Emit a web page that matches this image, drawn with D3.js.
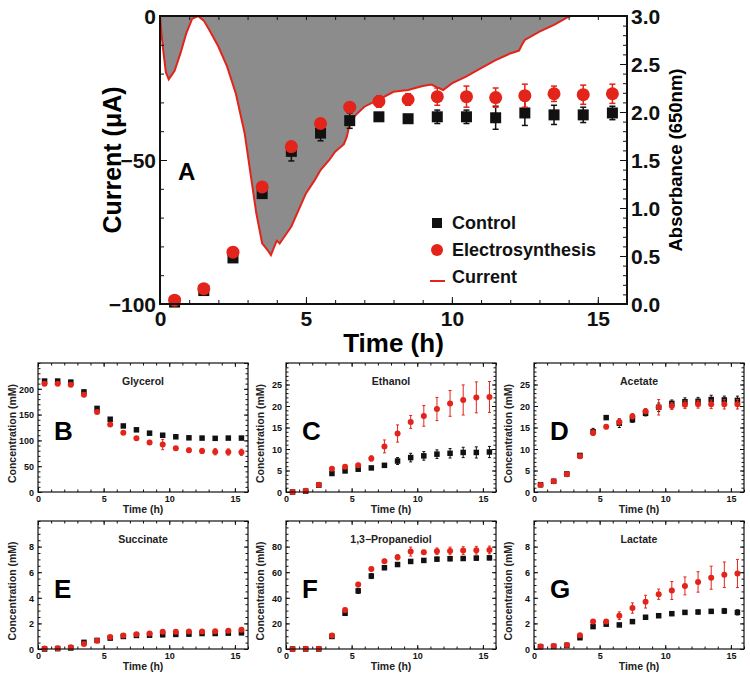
<!DOCTYPE html>
<html lang="en">
<head>
<meta charset="UTF-8">
<script src="https://d3js.org/d3.v7.min.js"></script>
<title>Electrosynthesis fermentation</title>
<style>
  body { margin: 0; background: white; }
  svg { display: block; font-family: "Liberation Sans", Arial, sans-serif; font-weight: bold; }
</style>
</head>
<body>
<div id="chart"></div>
<script>
// sampling times (h), shared by every panel
const sampleTimes = [0.5, 1.5, 2.5, 3.5, 4.5, 5.5, 6.5, 7.5, 8.5, 9.5, 10.5, 11.5, 12.5, 13.5, 14.5, 15.5];

// panel A: absorbance (650nm) and current (uA)
const absControl    = [0.02, 0.14, 0.48, 1.15, 1.59, 1.78, 1.91, 1.95, 1.93, 1.95, 1.95, 1.94, 1.99, 1.97, 1.97, 1.99];
const absControlErr = [0.01, 0.02, 0.02, 0.03, 0.10, 0.08, 0.08, 0.04, 0.03, 0.07, 0.07, 0.12, 0.13, 0.10, 0.08, 0.07];
const absElectro    = [0.04, 0.16, 0.54, 1.22, 1.64, 1.88, 2.05, 2.11, 2.13, 2.16, 2.16, 2.15, 2.17, 2.19, 2.18, 2.19];
const absElectroErr = [0.01, 0.02, 0.02, 0.03, 0.05, 0.05, 0.04, 0.06, 0.06, 0.09, 0.11, 0.10, 0.12, 0.08, 0.10, 0.10];

const currentTime  = [0, 0.05, 0.1, 0.2, 0.3, 0.5, 0.7, 0.9, 1.1, 1.3, 1.5, 1.7, 2.0, 2.3, 2.6, 2.9, 3.1, 3.3, 3.5, 3.7, 3.8, 4.0, 4.1, 4.2, 4.5, 5.0, 5.3, 5.5, 5.8, 6.0, 6.3, 6.4, 6.5, 6.7, 7.0, 7.3, 7.5, 8.0, 8.5, 9.0, 9.3, 9.5, 9.7, 10.0, 10.5, 11.0, 11.5, 12.0, 12.3, 12.4, 12.5, 13.0, 13.5, 14.0, 14.1];
const currentValue = [0, -6, -11, -19.5, -22, -19, -13, -6, -1, 0, -1.6, -5, -10.6, -17.6, -27, -40.7, -54.6, -68.5, -78.9, -81.5, -83, -78, -79, -77.5, -73.1, -61.6, -57, -53.5, -50, -47.1, -44.5, -42, -37.3, -34.4, -31.5, -30, -29, -26.3, -25.7, -24.3, -23.8, -24.8, -25.7, -23.4, -21, -18.1, -15.3, -13, -12, -10, -8.3, -5.4, -3.1, -0.2, 0];

// panels B-G: concentrations (mM)
const glycerolControl    = [215, 215, 213, 194, 162, 141, 128, 120.5, 114, 110, 107, 105, 104.5, 104, 104.5, 104.5];
const glycerolControlErr = [2, 2, 2, 3, 3, 3, 2, 2, 2, 2, 2, 2, 2, 2, 2, 2];
const glycerolElectro    = [210, 210, 208, 188.5, 155, 131, 115, 104, 96, 92, 85, 81, 79.5, 78, 77.5, 77];
const glycerolElectroErr = [3, 3, 3, 3, 3, 3, 3, 3, 4, 10, 3, 4, 5, 6, 6, 6];

const ethanolControl    = [0, 0.2, 1.6, 4.3, 4.9, 5.3, 5.6, 6.2, 7.2, 8.0, 8.4, 8.8, 9.0, 9.2, 9.2, 9.3];
const ethanolControlErr = [0.1, 0.1, 0.2, 0.3, 0.3, 0.3, 0.3, 0.4, 0.8, 1.0, 1.0, 1.0, 1.1, 1.2, 1.3, 1.3];
const ethanolElectro    = [0, 0.3, 1.7, 5.4, 5.9, 6.2, 7.8, 10.6, 13.6, 16.3, 17.7, 19.3, 20.6, 21.4, 22.0, 22.1];
const ethanolElectroErr = [0.1, 0.1, 0.2, 0.3, 0.3, 0.4, 0.6, 1.5, 2.0, 1.5, 2.4, 2.7, 3.0, 3.5, 3.6, 3.6];

const acetateControl    = [1.7, 2.5, 4.2, 8.5, 14.0, 17.3, 16.0, 16.8, 18.3, 19.7, 20.6, 21.0, 21.1, 21.5, 21.4, 21.3];
const acetateControlErr = [0.2, 0.2, 0.3, 0.4, 0.8, 0.4, 1.0, 0.6, 0.6, 1.0, 0.8, 0.9, 0.9, 1.0, 0.9, 1.0];
const acetateElectro    = [1.6, 2.5, 4.1, 8.3, 13.8, 15.2, 16.3, 17.6, 18.8, 19.7, 20.0, 20.3, 20.4, 20.4, 20.4, 20.4];
const acetateElectroErr = [0.2, 0.2, 0.3, 0.4, 0.6, 0.5, 0.7, 0.6, 0.6, 1.8, 0.8, 0.9, 0.9, 1.0, 1.1, 1.1];

const succinateControl    = [0, 0.03, 0.08, 0.52, 0.67, 0.85, 0.98, 1.06, 1.08, 1.11, 1.14, 1.16, 1.21, 1.21, 1.24, 1.26];
const succinateControlErr = [0.02, 0.02, 0.03, 0.12, 0.05, 0.05, 0.05, 0.05, 0.06, 0.06, 0.06, 0.06, 0.06, 0.07, 0.07, 0.07];
const succinateElectro    = [0.03, 0.05, 0.13, 0.39, 0.65, 0.93, 1.06, 1.16, 1.21, 1.34, 1.34, 1.37, 1.37, 1.39, 1.42, 1.50];
const succinateElectroErr = [0.02, 0.02, 0.03, 0.06, 0.06, 0.07, 0.07, 0.07, 0.08, 0.08, 0.08, 0.08, 0.08, 0.09, 0.09, 0.10];

const propanediolControl    = [0, 0, 0, 9.8, 27.9, 45.4, 57, 63.5, 66, 68.4, 69.2, 70.2, 70.5, 70.7, 71, 71.2];
const propanediolControlErr = [0.3, 0.3, 0.3, 1, 1.5, 2, 2, 1.5, 1.5, 1.5, 1.5, 1.5, 1.5, 1.5, 1.5, 1.5];
const propanediolElectro    = [0, 0.1, 0.1, 10.6, 30.5, 50.3, 62.5, 68.6, 71.7, 76.1, 75.6, 76.4, 76.6, 76.9, 77.2, 77.4];
const propanediolElectroErr = [0.3, 0.3, 0.3, 1, 1.5, 1.5, 1.5, 1.5, 2, 3.5, 1.5, 2.5, 3, 3, 3, 3];

const lactateControl    = [0.18, 0.2, 0.28, 0.88, 1.75, 1.94, 1.88, 2.14, 2.48, 2.6, 2.76, 2.86, 2.89, 2.94, 2.97, 2.86];
const lactateControlErr = [0.05, 0.05, 0.05, 0.08, 0.1, 0.1, 0.12, 0.14, 0.12, 0.12, 0.15, 0.15, 0.15, 0.15, 0.2, 0.2];
const lactateElectro    = [0.2, 0.23, 0.31, 1.08, 2.14, 2.14, 2.6, 3.2, 3.7, 4.28, 4.57, 4.93, 5.24, 5.57, 5.8, 5.9];
const lactateElectroErr = [0.05, 0.05, 0.06, 0.1, 0.15, 0.15, 0.3, 0.4, 0.5, 0.4, 0.7, 0.7, 0.8, 0.9, 1.0, 1.1];

const legendLabels = ["Control", "Electrosynthesis", "Current"];

const RED = "#e3241b";
const BLACK = "#111";

const svg = d3.select("#chart").append("svg")
    .attr("width", 750)
    .attr("height", 679);

// draws a vertical error bar set with little caps
function errorBars(g, x, y, vals, errs, color, cap, width) {
    const sel = g.append("g").attr("stroke", color).attr("stroke-width", width);
    sampleTimes.forEach((t, i) => {
        const cx = x(t), top = y(vals[i] + errs[i]), bot = y(vals[i] - errs[i]);
        sel.append("line").attr("x1", cx).attr("x2", cx).attr("y1", top).attr("y2", bot);
        sel.append("line").attr("x1", cx - cap).attr("x2", cx + cap).attr("y1", top).attr("y2", top);
        sel.append("line").attr("x1", cx - cap).attr("x2", cx + cap).attr("y1", bot).attr("y2", bot);
    });
}

function markers(g, x, y, vals, kind, color, size) {
    if (kind === "square") {
        g.append("g").selectAll("rect").data(vals).join("rect")
            .attr("x", (d, i) => x(sampleTimes[i]) - size / 2)
            .attr("y", d => y(d) - size / 2)
            .attr("width", size).attr("height", size)
            .attr("fill", color);
    } else {
        g.append("g").selectAll("circle").data(vals).join("circle")
            .attr("cx", (d, i) => x(sampleTimes[i]))
            .attr("cy", d => y(d))
            .attr("r", size / 2)
            .attr("fill", color);
    }
}

// ticks helper: one call for major (labelled) and one for minor ticks
function ticks(g, axisFn, scale, values, size, transform, fmt, fontSize) {
    const ax = axisFn(scale).tickValues(values).tickSize(size).tickPadding(fmt ? 4 : 0);
    ax.tickFormat(fmt ? fmt : () => "");
    const a = g.append("g").attr("transform", transform || null).call(ax);
    a.select(".domain").remove();
    a.selectAll("line").attr("stroke", "#111");
    a.selectAll("text").attr("font-size", fontSize).attr("font-family", "Liberation Sans, Arial, sans-serif")
        .attr("font-weight", "bold").attr("fill", "#111");
    return a;
}

function step(a, b, s) {
    const out = [];
    for (let v = a; v <= b + 1e-9; v += s) out.push(+v.toFixed(4));
    return out;
}

// ---------- panel A ----------
const boxA = {x: 160, y: 16, w: 467, h: 288};
const gA = svg.append("g").attr("transform", `translate(${boxA.x},${boxA.y})`);
const xA = d3.scaleLinear().domain([0, 16]).range([0, boxA.w]);
const yCur = d3.scaleLinear().domain([-100, 0]).range([boxA.h, 0]);
const yAbs = d3.scaleLinear().domain([0, 3]).range([boxA.h, 0]);

svg.append("clipPath").attr("id", "clipA")
    .append("rect").attr("width", boxA.w).attr("height", boxA.h);

const currentData = currentTime.map((t, i) => ({t: t, v: currentValue[i]}));
const plotA = gA.append("g").attr("clip-path", "url(#clipA)");
plotA.append("path").datum(currentData)
    .attr("fill", "#8c8c8c")
    .attr("d", d3.area().x(d => xA(d.t)).y0(yCur(0)).y1(d => yCur(d.v)));
plotA.append("path").datum(currentData)
    .attr("fill", "none").attr("stroke", RED).attr("stroke-width", 2)
    .attr("d", d3.line().x(d => xA(d.t)).y(d => yCur(d.v)));

errorBars(gA, xA, yAbs, absControl, absControlErr, BLACK, 3, 1.5);
markers(gA, xA, yAbs, absControl, "square", BLACK, 11);
errorBars(gA, xA, yAbs, absElectro, absElectroErr, RED, 3, 1.5);
markers(gA, xA, yAbs, absElectro, "circle", RED, 13);

ticks(gA, d3.axisBottom, xA, step(0, 16, 1), -4, `translate(0,${boxA.h})`);
ticks(gA, d3.axisBottom, xA, [0, 5, 10, 15], -7, `translate(0,${boxA.h})`, d3.format("d"), 21).selectAll("text").attr("dy", "0.85em");
ticks(gA, d3.axisTop, xA, step(0, 16, 1), -4);
ticks(gA, d3.axisLeft, yCur, step(-100, 0, 10), -4);
ticks(gA, d3.axisLeft, yCur, [-100, -50, 0], -7, null, d3.format("d"), 21).selectAll("text").attr("dy", "0.36em");
ticks(gA, d3.axisRight, yAbs, step(0, 3, 0.1), -4, `translate(${boxA.w},0)`);
ticks(gA, d3.axisRight, yAbs, step(0, 3, 0.5), -7, `translate(${boxA.w},0)`, d3.format(".1f"), 21).selectAll("text").attr("dy", "0.36em");

gA.append("rect").attr("width", boxA.w).attr("height", boxA.h)
    .attr("fill", "none").attr("stroke", "#111").attr("stroke-width", 2);

gA.append("text").attr("x", 18).attr("y", 164).attr("font-size", 24).text("A");

// legend
const leg = gA.append("g").attr("transform", "translate(277,207)");
legendLabels.forEach((lab, i) => {
    const ly = i * 27;
    if (i === 0) leg.append("rect").attr("x", -5).attr("y", ly - 5).attr("width", 10).attr("height", 10).attr("fill", BLACK);
    if (i === 1) leg.append("circle").attr("cx", 0).attr("cy", ly).attr("r", 6).attr("fill", RED);
    if (i === 2) leg.append("line").attr("x1", -7).attr("x2", 8).attr("y1", ly + 4).attr("y2", ly + 4).attr("stroke", RED).attr("stroke-width", 2);
    leg.append("text").attr("x", 15).attr("y", ly).attr("dy", "0.36em").attr("font-size", 18).attr("fill", "#111").text(lab);
});

// axis titles A
svg.append("text").attr("x", boxA.x + boxA.w / 2).attr("y", 352)
    .attr("text-anchor", "middle").attr("font-size", 26).text("Time (h)");
svg.append("text").attr("transform", `translate(121,${boxA.y + boxA.h / 2}) rotate(-90)`)
    .attr("text-anchor", "middle").attr("font-size", 25).text("Current (\u03BCA)");
svg.append("text").attr("transform", `translate(682,${boxA.y + boxA.h / 2}) rotate(-90)`)
    .attr("text-anchor", "middle").attr("font-size", 18.5).text("Absorbance (650nm)");

// ---------- panels B-G ----------
const panels = [
    {letter: "B", title: "Glycerol", x: 38, y: 363, h: 129, yMax: 250, major: 50, minor: 10, label: [0, 200],
     ctrl: glycerolControl, ctrlErr: glycerolControlErr, elec: glycerolElectro, elecErr: glycerolElectroErr},
    {letter: "C", title: "Ethanol", x: 286, y: 363, h: 129, yMax: 30, major: 5, minor: 1, label: [0, 25],
     ctrl: ethanolControl, ctrlErr: ethanolControlErr, elec: ethanolElectro, elecErr: ethanolElectroErr},
    {letter: "D", title: "Acetate", x: 534, y: 363, h: 129, yMax: 30, major: 5, minor: 1, label: [0, 25],
     ctrl: acetateControl, ctrlErr: acetateControlErr, elec: acetateElectro, elecErr: acetateElectroErr},
    {letter: "E", title: "Succinate", x: 38, y: 521, h: 128, yMax: 10, major: 2, minor: 0.5, label: [0, 8],
     ctrl: succinateControl, ctrlErr: succinateControlErr, elec: succinateElectro, elecErr: succinateElectroErr},
    {letter: "F", title: "1,3\u2212Propanediol", x: 286, y: 521, h: 128, yMax: 100, major: 20, minor: 5, label: [0, 80],
     ctrl: propanediolControl, ctrlErr: propanediolControlErr, elec: propanediolElectro, elecErr: propanediolElectroErr},
    {letter: "G", title: "Lactate", x: 534, y: 521, h: 128, yMax: 10, major: 2, minor: 0.5, label: [0, 8],
     ctrl: lactateControl, ctrlErr: lactateControlErr, elec: lactateElectro, elecErr: lactateElectroErr}
];

const smallW = 210;
panels.forEach(p => {
    const g = svg.append("g").attr("transform", `translate(${p.x},${p.y})`);
    const x = d3.scaleLinear().domain([0, 16]).range([0, smallW]);
    const y = d3.scaleLinear().domain([0, p.yMax]).range([p.h, 0]);

    errorBars(g, x, y, p.ctrl, p.ctrlErr, BLACK, 1.5, 1);
    markers(g, x, y, p.ctrl, "square", BLACK, 5.5);
    errorBars(g, x, y, p.elec, p.elecErr, RED, 1.5, 1);
    markers(g, x, y, p.elec, "circle", RED, 6);

    ticks(g, d3.axisBottom, x, step(0, 16, 1), -2.5, `translate(0,${p.h})`);
    ticks(g, d3.axisBottom, x, [0, 5, 10, 15], -4, `translate(0,${p.h})`, d3.format("d"), 9).selectAll("text").attr("dy", "0.7em");
    ticks(g, d3.axisTop, x, step(0, 16, 1), -2.5);
    ticks(g, d3.axisTop, x, [0, 5, 10, 15], -4);
    ticks(g, d3.axisLeft, y, step(0, p.yMax, p.minor), -2.5);
    ticks(g, d3.axisLeft, y, step(p.label[0], p.label[1], p.major), -4, null, d3.format("d"), 9).selectAll("text").attr("dy", "0.36em");
    ticks(g, d3.axisRight, y, step(0, p.yMax, p.minor), -2.5, `translate(${smallW},0)`);
    ticks(g, d3.axisRight, y, step(0, p.yMax, p.major), -4, `translate(${smallW},0)`);

    g.append("rect").attr("width", smallW).attr("height", p.h)
        .attr("fill", "none").attr("stroke", "#111").attr("stroke-width", 1.2);

    g.append("text").attr("x", smallW / 2).attr("y", 22).attr("text-anchor", "middle")
        .attr("font-size", 10.5).attr("fill", "#222").text(p.title);
    g.append("text").attr("x", 16).attr("y", 77).attr("font-size", 26).attr("fill", "#000").text(p.letter);
    g.append("text").attr("x", smallW / 2).attr("y", p.h + 21).attr("text-anchor", "middle")
        .attr("font-size", 10.5).attr("fill", "#222").text("Time (h)");
    g.append("text").attr("transform", `translate(-22,${p.h / 2 + 6}) rotate(-90)`)
        .attr("text-anchor", "middle").attr("font-size", 10.5).attr("fill", "#222").text("Concentration (mM)");
});
</script>
</body>
</html>
